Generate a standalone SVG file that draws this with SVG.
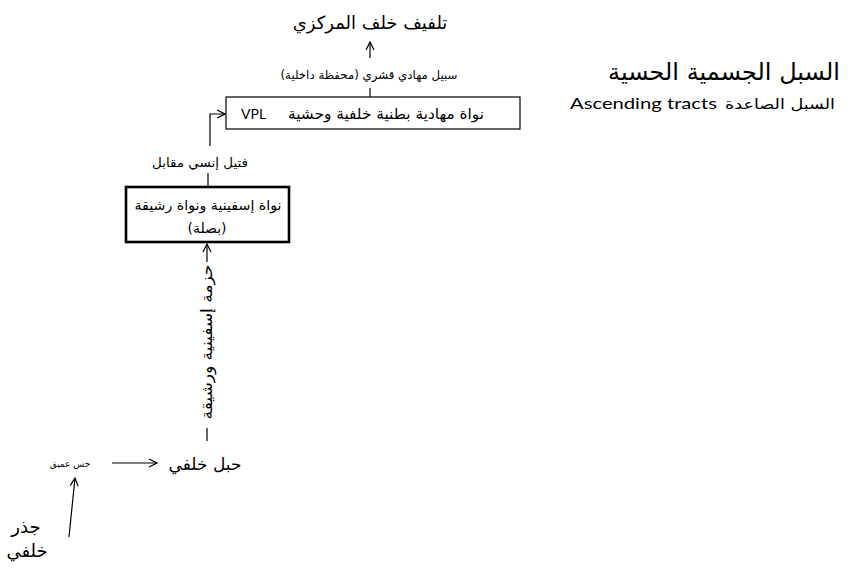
<svg xmlns="http://www.w3.org/2000/svg" width="856" height="568" viewBox="0 0 856 568">
  <style>
    .ar { font-family: "DejaVu Sans", "Liberation Sans", sans-serif; fill: #000; direction: rtl; text-anchor: middle; }
    .en { font-family: "Lato", "Open Sans", "Liberation Sans", sans-serif; fill: #000; }
    .box { fill: #fff; stroke: #000; stroke-width: 1.2; }
    .box2 { fill: #fff; stroke: #000; stroke-width: 2.6; }
    .ln { fill: none; stroke: #000; stroke-width: 1.2; }
  </style>
  <defs>
    <marker id="open" viewBox="0 0 10 10" refX="9" refY="5" markerWidth="10" markerHeight="10" markerUnits="userSpaceOnUse" orient="auto">
      <path d="M1,1 L9,5 L1,9" fill="none" stroke="#000" stroke-width="1.2"/>
    </marker>
  </defs>

  <rect width="856" height="568" fill="#fff"/>

  <!-- heading -->
  <g id="title">
    <text class="ar" x="724" y="80" font-size="24">السبل الجسمية الحسية</text>
    <text class="en" x="570" y="109" font-size="16" textLength="147" lengthAdjust="spacingAndGlyphs">Ascending tracts</text>
    <text class="ar" x="780" y="109" font-size="14" textLength="110" lengthAdjust="spacingAndGlyphs">السبل الصاعدة</text>
  </g>

  <!-- connectors -->
  <g id="connectors">
    <line class="ln" x1="370" y1="58" x2="370" y2="42" marker-end="url(#open)"/>
    <line class="ln" x1="370" y1="88" x2="370" y2="97"/>
    <polyline class="ln" points="210,146 210,114 225,114" marker-end="url(#open)"/>
    <line class="ln" x1="208" y1="173" x2="208" y2="187"/>
    <line class="ln" x1="207" y1="262" x2="207" y2="244" marker-end="url(#open)"/>
    <line class="ln" x1="207" y1="428" x2="207" y2="441"/>
    <line class="ln" x1="112" y1="463" x2="157" y2="463" marker-end="url(#open)"/>
    <line class="ln" x1="69" y1="537" x2="75" y2="478" marker-end="url(#open)"/>
  </g>

  <g id="cortex">
    <text class="ar" x="370" y="29" font-size="18">تلفيف خلف المركزي</text>
  </g>

  <g id="label-thalamocortical">
    <text class="ar" x="369" y="79" font-size="11.5" textLength="177" lengthAdjust="spacingAndGlyphs">سبيل مهادي قشري (محفظة داخلية)</text>
  </g>

  <g id="vpl">
    <rect class="box" x="226" y="97" width="294" height="32"/>
    <text class="en" x="241" y="119" font-size="14">VPL</text>
    <text class="ar" x="386" y="119" font-size="15" textLength="196" lengthAdjust="spacingAndGlyphs">نواة مهادية بطنية خلفية وحشية</text>
  </g>

  <g id="label-lemniscus">
    <text class="ar" x="200" y="167" font-size="12.5" textLength="96" lengthAdjust="spacingAndGlyphs">فتيل إنسي مقابل</text>
  </g>

  <g id="nuclei">
    <rect class="box2" x="126" y="187" width="163" height="55"/>
    <text class="ar" x="208" y="210" font-size="13.5" textLength="147" lengthAdjust="spacingAndGlyphs">نواة إسفينية ونواة رشيقة</text>
    <text class="ar" x="207" y="233" font-size="14">(بصلة)</text>
  </g>

  <g id="label-fasciculus">
    <text class="ar" font-size="15.5" textLength="155" lengthAdjust="spacingAndGlyphs" transform="translate(212,342) rotate(-90)">حزمة إسفينية ورشيقة</text>
  </g>

  <g id="dorsal-column">
    <text class="ar" x="205" y="470" font-size="17">حبل خلفي</text>
  </g>

  <g id="deep-sense">
    <text class="ar" x="70" y="467" font-size="9">حس عميق</text>
  </g>

  <g id="dorsal-root">
    <text class="ar" x="26" y="533" font-size="18">جذر</text>
    <text class="ar" x="27" y="557" font-size="18">خلفي</text>
  </g>
</svg>
